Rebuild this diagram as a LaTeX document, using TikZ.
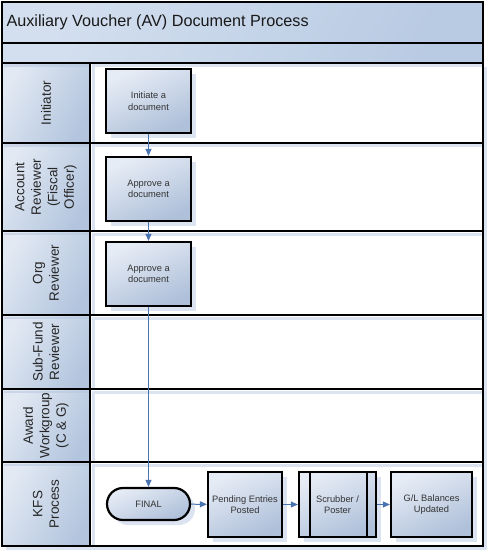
\documentclass[tikz,border=0pt]{standalone}
\usepackage{fontspec}
\setmainfont{Liberation Sans}
\usetikzlibrary{arrows.meta,shapes.misc,shadows}
\definecolor{bandA}{HTML}{D3DFEF}
\definecolor{bandB}{HTML}{B9CBE3}
\definecolor{hdrA}{HTML}{E2E9F3}
\definecolor{hdrB}{HTML}{B3C5DE}
\definecolor{boxA}{HTML}{E6ECF5}
\definecolor{boxB}{HTML}{AFC0DA}
\definecolor{shadowblue}{HTML}{DCE4F2}
\definecolor{arrowblue}{HTML}{4A74B0}
\definecolor{txtgray}{HTML}{333333}
\tikzset{
  band/.style={draw=black, line width=1.8pt, top color=bandA, bottom color=bandB, shading angle=60},
  hdr/.style={draw=black, line width=1.8pt, top color=hdrA, bottom color=hdrB, shading angle=60},
  lanebody/.style={draw=black, line width=1.8pt, fill=white},
  lanelabel/.style={rotate=90, align=center, font=\fontsize{13.5}{16.5}\selectfont, text=black!85},
  procbox/.style={draw=black, line width=2.2pt, top color=boxA, bottom color=boxB, shading angle=25,
    minimum width=85pt, minimum height=64pt, align=center, inner sep=1pt,
    font=\fontsize{9.3}{11.5}\selectfont, text=txtgray,
    drop shadow={shadow xshift=5pt, shadow yshift=-5pt, fill=shadowblue, opacity=1}},
  flowarrow/.style={draw=arrowblue, line width=1pt, -{Triangle[length=7pt,width=6pt]}},
  shadowstrip/.style={fill=shadowblue}
}
\begin{document}
\begin{tikzpicture}[x=1pt,y=-1pt]
\useasboundingbox (0,0) rectangle (490,553);
% pool shadow
\fill[shadowblue] (6,67) rectangle (487,550);
% title bands
\path[band] (2,2) rectangle (483,43);
\path[band] (2,43) rectangle (483,63);
\node[anchor=west, font=\fontsize{16.2}{18}\selectfont, text=black!90] (title) at (3,22) {Auxiliary Voucher (AV) Document Process};
% lanes
\foreach \ya/\yb in {63/143,143/231,231/315,315/389,389/462,462/546}{
  \path[lanebody] (90,\ya) rectangle (483,\yb);
  \path[hdr] (2,\ya) rectangle (90,\yb);
}
% shadow strips under separators
\foreach \ya/\yb in {63/143,143/231,231/315,315/389,389/462,462/546}{
  \fill[shadowblue] (92,\ya+1.5) rectangle (482,\ya+4.5);
  \fill[shadowblue] (92,\ya+1.5) rectangle (95,\yb-1);
  \fill[hdrB, opacity=0.5] (3.5,\ya+1.5) rectangle (89,\ya+4);
}
% redraw borders on top
\foreach \ya/\yb in {63/143,143/231,231/315,315/389,389/462,462/546}{
  \draw[line width=1.8pt] (2,\ya) rectangle (483,\yb);
  \draw[line width=1.8pt] (90,\ya) -- (90,\yb);
}
% lane labels
\node[lanelabel] (lInit) at (46,103) {Initiator};
\node[lanelabel] (lAcct) at (46,187) {Account\\Reviewer\\(Fiscal\\Officer)};
\node[lanelabel] (lOrg) at (46,273) {Org\\Reviewer};
\node[lanelabel] (lSub) at (46,352) {Sub-Fund\\Reviewer};
\node[lanelabel] (lAward) at (46,425.5) {Award\\Workgroup\\(C \& G)};
\node[lanelabel] (lKFS) at (46,504) {KFS\\Process};
% process boxes
\node[procbox] (init) at (148.5,101) {Initiate a\\document};
\node[procbox] (app1) at (148.5,189) {Approve a\\document};
\node[procbox] (app2) at (148.5,274) {Approve a\\document};
\node[procbox, rounded rectangle, minimum height=32pt] (final) at (148.5,504) {FINAL};
\node[procbox, minimum width=74pt, minimum height=65pt] (pend) at (245,504.5) {Pending Entries\\Posted};
\node[procbox, minimum width=77pt, minimum height=65pt] (scrub) at (337.5,504.5) {Scrubber /\\Poster};
\draw[line width=2pt] ([xshift=12pt]scrub.north west) -- ([xshift=12pt]scrub.south west);
\draw[line width=2pt] ([xshift=-10pt]scrub.north east) -- ([xshift=-10pt]scrub.south east);
\node[procbox, minimum width=81pt, minimum height=65pt] (gl) at (431.5,504.5) {G/L Balances\\Updated};
% connectors
\draw[flowarrow] (init) -- (app1);
\draw[flowarrow] (app1) -- (app2);
\draw[flowarrow] (app2) -- (final);
\draw[flowarrow] (final) -- (pend);
\draw[flowarrow] (pend) -- (scrub);
\draw[flowarrow] (scrub) -- (gl);
\end{tikzpicture}
\end{document}
